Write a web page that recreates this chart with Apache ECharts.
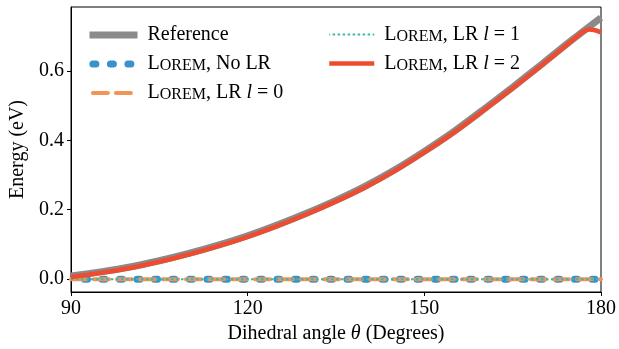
<!DOCTYPE html>
<html><head><meta charset="utf-8">
<script src="https://cdn.jsdelivr.net/npm/echarts@6/dist/echarts.min.js"></script>
<style>html,body{margin:0;padding:0;background:#fff}#c{width:619px;height:349px}</style>
</head><body><div id="c"></div>
<script>
// ---- data ----
const angles   = [90, 95, 100, 105, 110, 115, 120, 125, 130, 135, 140, 145, 150, 155, 160, 165, 170, 175, 180];
const anglesL2 = [90, 95, 100, 105, 110, 115, 120, 125, 130, 135, 140, 145, 150, 155, 160, 165, 170, 175, 176, 177, 178, 179, 180];
const referenceE = [0.009, 0.021, 0.035, 0.053, 0.074, 0.098, 0.125, 0.156, 0.190, 0.227, 0.268, 0.315, 0.368, 0.425, 0.488, 0.553, 0.620, 0.688, 0.753];
const noLR = [0, 0, 0, 0, 0, 0, 0, 0, 0, 0, 0, 0, 0, 0, 0, 0, 0, 0, 0];
const lr0  = [0, 0, 0, 0, 0, 0, 0, 0, 0, 0, 0, 0, 0, 0, 0, 0, 0, 0, 0];
const lr1  = [0, 0, 0, 0, 0, 0, 0, 0, 0, 0, 0, 0, 0, 0, 0, 0, 0, 0, 0];
const lr2  = [0.006, 0.018, 0.032, 0.050, 0.071, 0.095, 0.122, 0.153, 0.187, 0.224, 0.265, 0.312, 0.365, 0.422, 0.485, 0.550, 0.617, 0.686, 0.700, 0.713, 0.719, 0.717, 0.711];
const xTicks = [90, 120, 150, 180];
const yTicks = [0, 0.2, 0.4, 0.6];
const seriesNames = ['Reference', 'Lorem, No LR', 'Lorem, LR l=0', 'Lorem, LR l=1', 'Lorem, LR l=2'];

const pairs = (xs, ys) => xs.map((x, i) => [x, ys[i]]);
const FONT = 'Liberation Serif';

const legendLabels = {
  'Reference': '{b|Reference}',
  'Lorem, No LR': '{b|L}{s|OREM}{b|, No LR}',
  'Lorem, LR l=0': '{b|L}{s|OREM}{b|, LR }{i|l}{b| = 0}',
  'Lorem, LR l=1': '{b|L}{s|OREM}{b|, LR }{i|l}{b| = 1}',
  'Lorem, LR l=2': '{b|L}{s|OREM}{b|, LR }{i|l}{b| = 2}'
};
const rich = {
  b: {fontFamily: FONT, fontSize: 20, lineHeight: 20, color: '#000', verticalAlign: 'bottom'},
  s: {fontFamily: FONT, fontSize: 16, lineHeight: 17, color: '#000', verticalAlign: 'bottom'},
  i: {fontFamily: FONT, fontSize: 20, lineHeight: 20, color: '#000', fontStyle: 'italic', verticalAlign: 'bottom'}
};
const legendCommon = {
  orient: 'vertical', padding: 0, itemHeight: 14, itemGap: 9,
  formatter: n => legendLabels[n],
  textStyle: {fontFamily: FONT, fontSize: 20, color: '#000', padding: [0, 0, 0, 5], rich: rich},
  itemStyle: {color: 'rgba(0,0,0,0)', borderColor: 'rgba(0,0,0,0)', borderWidth: 0, opacity: 0},
  selectedMode: false
};

const chart = echarts.init(document.getElementById('c'), null, {renderer: 'canvas'});
chart.setOption({
  animation: false,
  backgroundColor: '#fff',
  grid: {left: 70, right: 17, top: 7, bottom: 53, show: true, borderColor: '#000', borderWidth: 1, backgroundColor: 'transparent'},
  legend: [
    Object.assign({}, legendCommon, {data: seriesNames.slice(0, 3), left: 86, top: 25, itemWidth: 48,
      lineStyle: {width: 'inherit', type: 'inherit', cap: 'inherit', color: 'inherit', dashOffset: -3.4}}),
    Object.assign({}, legendCommon, {data: seriesNames.slice(3), left: 327, top: 24.5, itemWidth: 45,
      lineStyle: {width: 'inherit', type: 'inherit', cap: 'inherit', color: 'inherit'}})
  ],
  xAxis: {
    type: 'value', min: 90, max: 180, interval: 30,
    name: 'Dihedral angle {i|θ} (Degrees)', nameLocation: 'middle', nameGap: 32,
    nameTextStyle: {fontFamily: FONT, fontSize: 20, color: '#000', rich: {i: {fontFamily: FONT, fontSize: 20, fontStyle: 'italic', color: '#000'}}},
    axisLine: {show: true, onZero: false, lineStyle: {color: '#000', width: 1}},
    axisTick: {show: true, inside: false, length: 4, lineStyle: {color: '#000'}},
    axisLabel: {fontFamily: FONT, fontSize: 20, color: '#000', margin: 7, customValues: xTicks},
    splitLine: {show: false}
  },
  yAxis: {
    type: 'value', min: -0.037, max: 0.784,
    name: 'Energy (eV)', nameLocation: 'middle', nameGap: 43,
    nameTextStyle: {fontFamily: FONT, fontSize: 20, color: '#000'},
    axisLine: {show: true, onZero: false, lineStyle: {color: '#000', width: 1}},
    axisTick: {show: true, inside: false, length: 4, lineStyle: {color: '#000'}, customValues: yTicks},
    axisLabel: {fontFamily: FONT, fontSize: 20, color: '#000', margin: 7, customValues: yTicks, formatter: v => v.toFixed(1)},
    splitLine: {show: false}
  },
  series: [
    {name: seriesNames[0], type: 'line', data: pairs(angles, referenceE), symbol: 'none', smooth: 0.3,
     lineStyle: {color: '#8a8a8a', width: 7}, itemStyle: {color: '#8a8a8a'}},
    {name: seriesNames[1], type: 'line', data: pairs(angles, noLR), symbol: 'none',
     lineStyle: {color: '#3a92cd', width: 7, type: [3, 14.5], cap: 'round', dashOffset: 4}, itemStyle: {color: '#3a92cd'}},
    {name: seriesNames[2], type: 'line', data: pairs(angles, lr0), symbol: 'none',
     lineStyle: {color: '#f29456', width: 4, type: [15, 8], cap: 'round'}, itemStyle: {color: '#f29456'}},
    {name: seriesNames[3], type: 'line', data: pairs(angles, lr1), symbol: 'none',
     lineStyle: {color: '#3eb8a8', width: 2, type: [2.5, 2.5]}, itemStyle: {color: '#3eb8a8'}},
    {name: seriesNames[4], type: 'line', data: pairs(anglesL2, lr2), symbol: 'none', smooth: 0.3,
     lineStyle: {color: '#ef4b2f', width: 4.5}, itemStyle: {color: '#ef4b2f'}}
  ]
});
</script>
</body></html>
